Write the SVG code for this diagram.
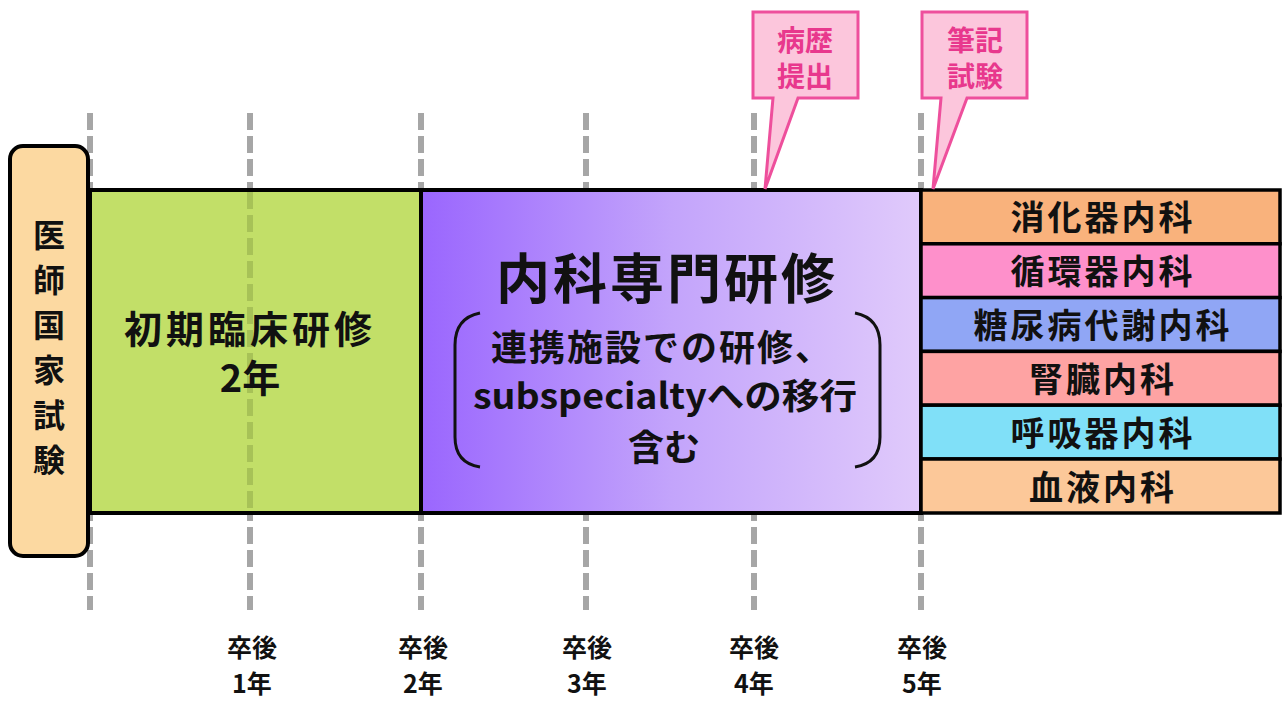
<svg xmlns="http://www.w3.org/2000/svg" width="1282" height="702" viewBox="0 0 1282 702">
<defs>
<linearGradient id="purp" x1="0" y1="0" x2="1" y2="0">
<stop offset="0" stop-color="#9a66fe"/>
<stop offset="0.5" stop-color="#c3a4fb"/>
<stop offset="1" stop-color="#e0cafb"/>
</linearGradient>
</defs>
<style>
.t{font-family:"Noto Sans CJK JP","Noto Sans",sans-serif;font-weight:700;fill:#111;text-anchor:middle}
.dash{stroke:#a6a6a6;stroke-width:6;stroke-dasharray:17 6;fill:none}
.box{stroke:#000;stroke-width:4}
.row{stroke:#000;stroke-width:3.5}
.call{fill:#fcc6dc;stroke:#ee4f9c;stroke-width:3;stroke-linejoin:miter}
.pt{font-family:"Noto Sans CJK JP",sans-serif;font-weight:700;fill:#e8388d;font-size:28px;text-anchor:middle}
.lab{font-family:"Noto Sans CJK JP",sans-serif;font-weight:700;fill:#111;font-size:25px;text-anchor:middle}
</style>
<rect width="1282" height="702" fill="#fff"/>
<g id="gridlines">
<line class="dash" x1="90" y1="113" x2="90" y2="610"/>
<line class="dash" x1="250" y1="113" x2="250" y2="610"/>
<line class="dash" x1="421" y1="113" x2="421" y2="610"/>
<line class="dash" x1="586" y1="113" x2="586" y2="610"/>
<line class="dash" x1="754" y1="113" x2="754" y2="610"/>
<line class="dash" x1="921" y1="113" x2="921" y2="610"/>
</g>
<g id="node-exam">
<rect x="10" y="146" width="78" height="410" rx="13" fill="#fcd9a1" stroke="#000" stroke-width="4"/>
<text class="t" x="49" font-size="32"><tspan x="49" y="247">医</tspan><tspan x="49" y="292">師</tspan><tspan x="49" y="337">国</tspan><tspan x="49" y="382">家</tspan><tspan x="49" y="427">試</tspan><tspan x="49" y="472">験</tspan></text>
</g>
<g id="node-initial">
<rect class="box" x="90" y="190" width="331" height="323" fill="#c2df68"/>
<line x1="250" y1="192" x2="250" y2="511" stroke="#a7c257" stroke-width="6" stroke-dasharray="17 6"/>
<text class="t" font-size="38"><tspan x="250" y="343" letter-spacing="4">初期臨床研修</tspan><tspan x="250" y="392">2年</tspan></text>
</g>
<g id="node-internal">
<rect class="box" x="421" y="190" width="500" height="323" fill="url(#purp)"/>
<text class="t" x="667" y="299" font-size="54" letter-spacing="3">内科専門研修</text>
<path d="M480,313 Q455,318 455,345 V437 Q455,463 480,467" fill="none" stroke="#111" stroke-width="3"/>
<path d="M855,313 Q880,318 880,345 V437 Q880,463 855,467" fill="none" stroke="#111" stroke-width="3"/>
<text class="t" x="662" y="361" font-size="36" letter-spacing="2">連携施設での研修、</text>
<text class="t" x="665" y="409" font-size="35" textLength="384" lengthAdjust="spacingAndGlyphs">subspecialtyへの移行</text>
<text class="t" x="664" y="461" font-size="36">含む</text>
</g>
<g id="node-subspecialties">
<rect class="row" x="921" y="190" width="359" height="53.8" fill="#f9b27c"/>
<rect class="row" x="921" y="243.8" width="359" height="53.8" fill="#fe90cb"/>
<rect class="row" x="921" y="297.6" width="359" height="53.8" fill="#90a6f5"/>
<rect class="row" x="921" y="351.4" width="359" height="53.8" fill="#fea3a3"/>
<rect class="row" x="921" y="405.2" width="359" height="53.8" fill="#80e0f8"/>
<rect class="row" x="921" y="459" width="359" height="54" fill="#fcc899"/>
<text class="t" x="1103" y="230" font-size="34" letter-spacing="3">消化器内科</text>
<text class="t" x="1103" y="284" font-size="34" letter-spacing="3">循環器内科</text>
<text class="t" x="1103" y="338" font-size="34" letter-spacing="3">糖尿病代謝内科</text>
<text class="t" x="1103" y="392" font-size="34" letter-spacing="3">腎臓内科</text>
<text class="t" x="1103" y="446" font-size="34" letter-spacing="3">呼吸器内科</text>
<text class="t" x="1103" y="500" font-size="34" letter-spacing="3">血液内科</text>
</g>
<g id="callout-history">
<path class="call" d="M753,12 H858 V98 H798 L765,189 L773,98 H753 Z"/>
<text class="pt"><tspan x="805" y="51">病歴</tspan><tspan x="805" y="87">提出</tspan></text>
</g>
<g id="callout-written">
<path class="call" d="M922,12 H1027 V98 H967 L933,189 L941,98 H922 Z"/>
<text class="pt"><tspan x="975" y="51">筆記</tspan><tspan x="975" y="87">試験</tspan></text>
</g>
<g id="year-labels">
<text class="lab"><tspan x="252" y="657">卒後</tspan><tspan x="252" y="693">1年</tspan></text>
<text class="lab"><tspan x="423" y="657">卒後</tspan><tspan x="423" y="693">2年</tspan></text>
<text class="lab"><tspan x="587" y="657">卒後</tspan><tspan x="587" y="693">3年</tspan></text>
<text class="lab"><tspan x="754" y="657">卒後</tspan><tspan x="754" y="693">4年</tspan></text>
<text class="lab"><tspan x="922" y="657">卒後</tspan><tspan x="922" y="693">5年</tspan></text>
</g>
</svg>
